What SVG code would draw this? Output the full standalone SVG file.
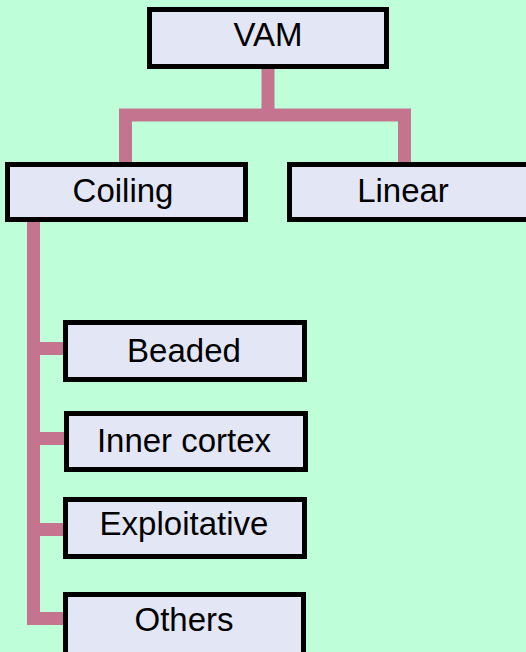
<svg xmlns="http://www.w3.org/2000/svg" width="526" height="652" viewBox="0 0 526 652">
<style>
.box{fill:#E2E6F5;stroke:#000;stroke-width:5}
.lbl{font-family:"Liberation Sans",Arial,Helvetica,sans-serif;font-size:33px;fill:#000;text-anchor:middle}
.conn{fill:none;stroke:#C4748E;stroke-width:13;stroke-linecap:butt;stroke-linejoin:miter}
</style>
<rect width="526" height="652" fill="#BEFED8"/>
<g id="connectors">
<path class="conn" d="M268 69 V115"/>
<path class="conn" d="M125.5 162 V115 H404.5 V162"/>
<path class="conn" d="M33.5 222 V618.5 H64"/>
<path class="conn" d="M33.5 348.5 H64"/>
<path class="conn" d="M33.5 438.5 H65"/>
<path class="conn" d="M33.5 529.5 H64"/>
</g>
<g id="vam"><rect class="box" x="149.5" y="9.5" width="237" height="57"/><text class="lbl" x="268" y="46">VAM</text></g>
<g id="coiling"><rect class="box" x="7.5" y="164.5" width="238" height="55"/><text class="lbl" x="123" y="202">Coiling</text></g>
<g id="linear"><rect class="box" x="289.5" y="164.5" width="240" height="55"/><text class="lbl" x="403" y="202">Linear</text></g>
<g id="beaded"><rect class="box" x="65.5" y="322.5" width="239" height="57"/><text class="lbl" x="184" y="362">Beaded</text></g>
<g id="inner-cortex"><rect class="box" x="66.5" y="413.5" width="239" height="56"/><text class="lbl" x="184" y="452">Inner cortex</text></g>
<g id="exploitative"><rect class="box" x="65.5" y="499.5" width="239" height="57"/><text class="lbl" x="184" y="535">Exploitative</text></g>
<g id="others"><rect class="box" x="65.5" y="594.5" width="238" height="62"/><text class="lbl" x="184" y="631">Others</text></g>
</svg>
